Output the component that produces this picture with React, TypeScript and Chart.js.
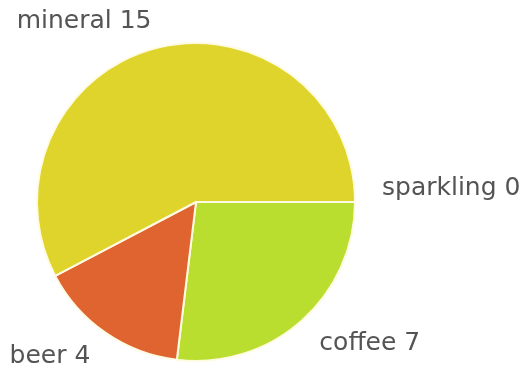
import React, { useEffect, useRef } from "react";
import { Chart, registerables } from "chart.js";

Chart.register(...registerables);

const categories = ["sparkling", "coffee", "beer", "mineral"];
const values = [0, 7, 4, 15];
const colors = ["#8fd13a", "#bade2f", "#e0642f", "#dfd42b"];

const labelPlugin = {
  id: "outsideLabels",
  afterDraw(chart: any) {
    const ctx = chart.ctx;
    const meta = chart.getDatasetMeta(0);
    ctx.save();
    ctx.font = "25px 'DejaVu Sans'";
    ctx.fillStyle = "#545454";
    meta.data.forEach((arc: any, i: number) => {
      const p = arc.getProps(["x", "y", "startAngle", "endAngle", "outerRadius"], true);
      const mid = (p.startAngle + p.endAngle) / 2;
      const c = Math.cos(mid);
      const s = Math.sin(mid);
      const rx = p.outerRadius + 27;
      const ry = p.outerRadius + 14;
      const x = p.x + c * rx;
      const y = p.y + s * ry;
      ctx.textAlign = c >= 0 ? "left" : "right";
      ctx.textBaseline = s > 0.01 ? "top" : "bottom";
      ctx.fillText(categories[i] + " " + values[i], x, s > 0.01 || s < -0.01 ? y : y - 1);
    });
    ctx.restore();
  },
};

export default function App() {
  const ref = useRef<HTMLCanvasElement>(null);
  useEffect(() => {
    if (!ref.current) return;
    const chart = new Chart(ref.current, {
      type: "pie",
      data: {
        labels: categories,
        datasets: [
          {
            data: values,
            backgroundColor: colors,
            borderColor: "#fffbe2",
            borderWidth: 2,
          },
        ],
      },
      options: {
        animation: false,
        responsive: false,
        rotation: 90,
        layout: { padding: { left: 36, top: 42, right: 175, bottom: 5 } },
        plugins: { legend: { display: false }, tooltip: { enabled: false } },
      },
      plugins: [labelPlugin],
    });
    return () => chart.destroy();
  }, []);
  return (
    <div style={{ position: "absolute", left: 0, top: 0, width: 531, height: 367, background: "#fff" }}>
      <canvas ref={ref} width={531} height={367} />
    </div>
  );
}
